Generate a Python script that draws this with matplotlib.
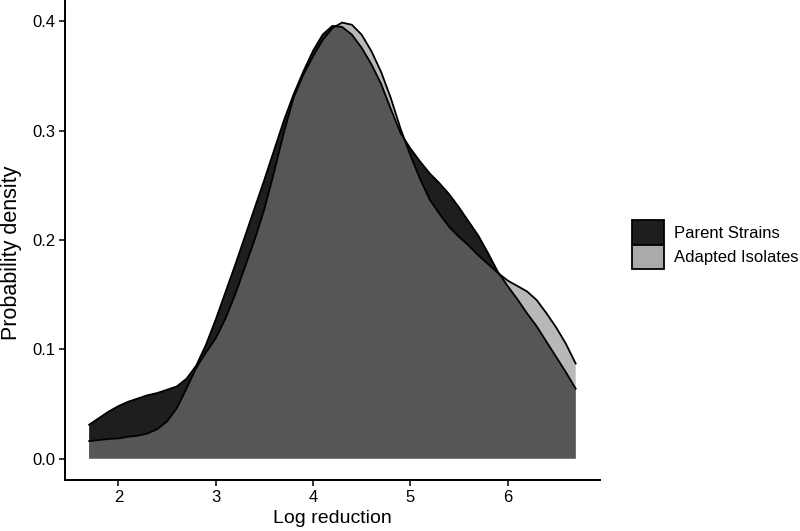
import matplotlib
matplotlib.use('Agg')
import matplotlib.pyplot as plt
from matplotlib.patches import Patch
import numpy as np

# density estimates (x = log reduction)
log_red = [1.7, 1.8, 1.9, 2.0, 2.1, 2.2, 2.3, 2.4, 2.5, 2.6,
           2.7, 2.8, 2.9, 3.0, 3.1, 3.2, 3.3, 3.4, 3.5, 3.6,
           3.7, 3.8, 3.9, 4.0, 4.1, 4.2, 4.3, 4.4, 4.5, 4.6,
           4.7, 4.8, 4.9, 5.0, 5.1, 5.2, 5.3, 5.4, 5.5, 5.6,
           5.7, 5.8, 5.9, 6.0, 6.1, 6.2, 6.3, 6.4, 6.5, 6.6, 6.7]
parent = [0.031, 0.037, 0.043, 0.048, 0.052, 0.055, 0.058, 0.060, 0.063, 0.066,
          0.073, 0.085, 0.104, 0.127, 0.152, 0.177, 0.203, 0.229, 0.255, 0.282,
          0.309, 0.333, 0.354, 0.373, 0.388, 0.396, 0.395, 0.388, 0.376, 0.361,
          0.343, 0.320, 0.298, 0.284, 0.272, 0.261, 0.252, 0.242, 0.230, 0.217,
          0.204, 0.188, 0.171, 0.158, 0.146, 0.133, 0.121, 0.107, 0.093, 0.079, 0.064]
adapted = [0.016, 0.017, 0.018, 0.0185, 0.020, 0.021, 0.023, 0.027, 0.034, 0.046,
           0.064, 0.083, 0.097, 0.110, 0.128, 0.150, 0.175, 0.200, 0.228, 0.262,
           0.298, 0.330, 0.351, 0.368, 0.383, 0.394, 0.399, 0.397, 0.388, 0.373,
           0.354, 0.330, 0.302, 0.278, 0.256, 0.237, 0.224, 0.212, 0.203, 0.195,
           0.186, 0.178, 0.170, 0.163, 0.158, 0.153, 0.145, 0.133, 0.120, 0.105, 0.087]
labels = ['Parent Strains', 'Adapted Isolates']

plt.rcParams['font.family'] = ['Liberation Sans', 'DejaVu Sans']

fig = plt.figure(figsize=(8, 5.31), dpi=100)
ax = fig.add_axes([0.081, 0.096, 0.669, 0.902])

x = np.array(log_red)
ax.fill_between(x, 0, parent, facecolor='#1e1e1e', edgecolor='none', zorder=2)
ax.fill_between(x, 0, adapted, facecolor='#828282', alpha=0.57, edgecolor='none', zorder=3)
ax.plot(x, parent, color='black', lw=1.3, zorder=4, solid_joinstyle='round')
ax.plot(x, adapted, color='black', lw=1.3, zorder=4, solid_joinstyle='round')

ax.set_xlim(1.45, 6.95)
ax.set_ylim(-0.0196, 0.4187)
ax.set_xticks([2, 3, 4, 5, 6])
ax.set_yticks([0.0, 0.1, 0.2, 0.3, 0.4])
ax.set_yticklabels(['0.0', '0.1', '0.2', '0.3', '0.4'])

for s in ['top', 'right']:
    ax.spines[s].set_visible(False)
for s in ['left', 'bottom']:
    ax.spines[s].set_linewidth(1.4)
ax.tick_params(length=4, width=1.1, labelsize=12, colors='black', pad=3)

ax.set_xlabel('Log reduction', fontsize=14)
ax.set_ylabel('Probability density', fontsize=15.5)
ax.xaxis.set_label_coords(0.5, -0.062)
ax.yaxis.set_label_coords(-0.080, 0.475)

handles = [Patch(facecolor='#1e1e1e', edgecolor='black', lw=1.3),
           Patch(facecolor='#aaaaaa', edgecolor='black', lw=1.3)]
fig.legend(handles, labels, loc='center left', bbox_to_anchor=(632 / 800, 0.539),
           frameon=False, fontsize=12, handlelength=1.9, handleheight=1.9,
           labelspacing=0.0, handletextpad=0.65, borderpad=0, borderaxespad=0)

fig.savefig('out.png', dpi=100)
